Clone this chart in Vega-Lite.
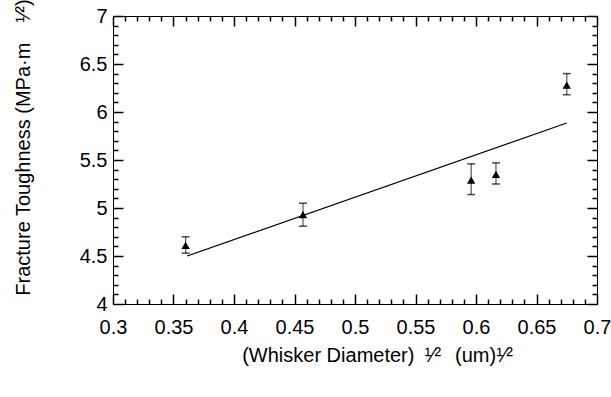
{
  "$schema": "https://vega.github.io/schema/vega-lite/v6.json",
  "width": 484,
  "height": 288,
  "autosize": "none",
  "padding": {"left": 113, "top": 16, "right": 14, "bottom": 93},
  "config": {
    "view": {"stroke": "black", "strokeWidth": 1},
    "axis": {
      "domain": false, "grid": false,
      "labelFont": "Liberation Sans", "titleFont": "Liberation Sans",
      "labelFontSize": 20, "titleFontSize": 20, "titleFontWeight": "normal",
      "labelColor": "black", "titleColor": "black", "tickColor": "black", "tickWidth": 1.5
    }
  },
  "datasets": {
    "pts": [
      {"d": 0.36, "k": 4.61, "lo": 4.53, "hi": 4.70},
      {"d": 0.457, "k": 4.93, "lo": 4.81, "hi": 5.05},
      {"d": 0.596, "k": 5.29, "lo": 5.14, "hi": 5.46},
      {"d": 0.6165, "k": 5.35, "lo": 5.25, "hi": 5.47},
      {"d": 0.675, "k": 6.28, "lo": 6.18, "hi": 6.40}
    ],
    "fit": [
      {"d": 0.3612, "k": 4.5},
      {"d": 0.675, "k": 5.885}
    ]
  },
  "layer": [
    {
      "data": {"name": "fit"},
      "mark": {"type": "line", "color": "black", "strokeWidth": 1.2},
      "encoding": {
        "x": {"field": "d", "type": "quantitative", "scale": {"domain": [0.3, 0.7], "nice": false, "zero": false},
          "axis": {"orient": "bottom", "values": [0.3, 0.35, 0.4, 0.45, 0.5, 0.55, 0.6, 0.65, 0.7], "format": "~g", "tickSize": -10, "labelPadding": 23, "labelFlush": false,
            "title": "(Whisker Diameter)\u2002¹⁄²\u2002\u2009(um)¹⁄²", "titleX": 264, "titleY": 51, "titleAlign": "center", "titleBaseline": "middle", "titleAnchor": null}},
        "y": {"field": "k", "type": "quantitative", "scale": {"domain": [4, 7], "nice": false, "zero": false},
          "axis": {"orient": "left", "values": [4, 4.5, 5, 5.5, 6, 6.5, 7], "format": "~g", "tickSize": -10, "labelPadding": 16, "labelFlush": false,
            "title": "Fracture Toughness (MPa·m\u2003¹⁄²)", "titleX": -90, "titleY": 131, "titleAlign": "center", "titleBaseline": "middle", "titleAngle": -90}}
      }
    },
    {
      "data": {"name": "pts"},
      "mark": {"type": "rule", "color": "#555555", "strokeWidth": 1.2},
      "encoding": {
        "x": {"field": "d", "type": "quantitative",
          "axis": {"orient": "bottom", "values": [0.31,0.32,0.33,0.34,0.36,0.37,0.38,0.39,0.41,0.42,0.43,0.44,0.46,0.47,0.48,0.49,0.51,0.52,0.53,0.54,0.56,0.57,0.58,0.59,0.61,0.62,0.63,0.64,0.66,0.67,0.68,0.69], "tickSize": -5, "labels": false, "title": null}},
        "y": {"field": "lo", "type": "quantitative",
          "axis": {"orient": "left", "values": [4.1,4.2,4.3,4.4,4.6,4.7,4.8,4.9,5.1,5.2,5.3,5.4,5.6,5.7,5.8,5.9,6.1,6.2,6.3,6.4,6.6,6.7,6.8,6.9], "tickSize": -5, "labels": false, "title": null}},
        "y2": {"field": "hi"}
      }
    },
    {
      "data": {"name": "pts"},
      "mark": {"type": "tick", "orient": "horizontal", "color": "black", "size": 8, "thickness": 1.5},
      "encoding": {
        "x": {"field": "d", "type": "quantitative",
          "axis": {"orient": "top", "values": [0.3, 0.35, 0.4, 0.45, 0.5, 0.55, 0.6, 0.65, 0.7], "tickSize": -10, "labels": false, "title": null}},
        "y": {"field": "lo", "type": "quantitative",
          "axis": {"orient": "right", "values": [4, 4.5, 5, 5.5, 6, 6.5, 7], "tickSize": -10, "labels": false, "title": null}}
      }
    },
    {
      "data": {"name": "pts"},
      "mark": {"type": "tick", "orient": "horizontal", "color": "black", "size": 8, "thickness": 1.5},
      "encoding": {
        "x": {"field": "d", "type": "quantitative",
          "axis": {"orient": "top", "values": [0.31,0.32,0.33,0.34,0.36,0.37,0.38,0.39,0.41,0.42,0.43,0.44,0.46,0.47,0.48,0.49,0.51,0.52,0.53,0.54,0.56,0.57,0.58,0.59,0.61,0.62,0.63,0.64,0.66,0.67,0.68,0.69], "tickSize": -5, "labels": false, "title": null}},
        "y": {"field": "hi", "type": "quantitative",
          "axis": {"orient": "right", "values": [4.1,4.2,4.3,4.4,4.6,4.7,4.8,4.9,5.1,5.2,5.3,5.4,5.6,5.7,5.8,5.9,6.1,6.2,6.3,6.4,6.6,6.7,6.8,6.9], "tickSize": -5, "labels": false, "title": null}}
      }
    },
    {
      "data": {"name": "pts"},
      "mark": {"type": "point", "shape": "triangle-up", "filled": true, "color": "black", "opacity": 1, "size": 70},
      "encoding": {
        "x": {"field": "d", "type": "quantitative", "axis": null},
        "y": {"field": "k", "type": "quantitative", "axis": null}
      }
    }
  ],
  "resolve": {"axis": {"x": "independent", "y": "independent"}}
}
